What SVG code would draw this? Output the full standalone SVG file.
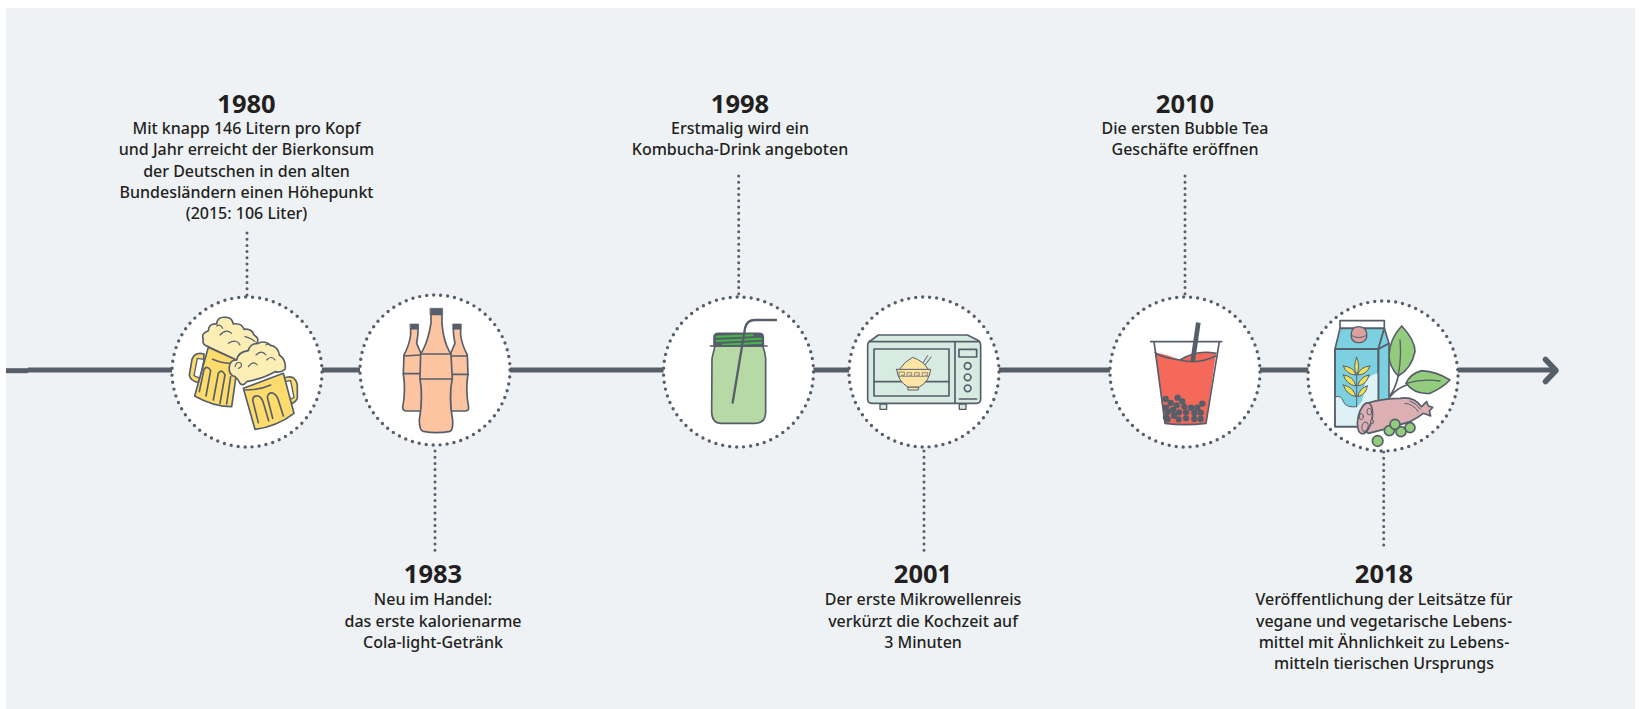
<svg xmlns="http://www.w3.org/2000/svg" width="1641" height="709" viewBox="0 0 1641 709">
<style>
.bg{fill:#eef2f5}
.main{fill:none;stroke:#565e6a;stroke-width:5}
.dot{fill:none;stroke:#565e6a;stroke-width:3;stroke-linecap:round;stroke-dasharray:0 6.2}
.ring{fill:#fff;stroke:#565e6a;stroke-width:3.4;stroke-linecap:round;stroke-dasharray:0 7.03}
.yr{font:700 25.5px "Noto Sans","Open Sans",sans-serif;fill:#231f20;text-anchor:middle}
.tx{font:500 16px "Noto Sans","Open Sans",sans-serif;fill:#231f20;text-anchor:middle}
.ic *{stroke:#565e6a;stroke-width:5;stroke-linejoin:round;stroke-linecap:round}
.ic .n{fill:none}
.ic .t{stroke-width:3}
.ic .ball{fill:#565e6a;stroke:none}
</style>
<rect class="bg" x="6" y="8" width="1629" height="701"/>
<g id="connectors">
<path class="main" d="M6 370.700H28"/>
<path class="main" d="M28 370H1556"/>
<path class="main" d="M1545.500 359.500L1556 370.500L1545.500 381.500" stroke-linecap="round" stroke-linejoin="round" style="stroke-width:5.500"/>
<path class="dot" d="M247 233V296"/>
<path class="dot" d="M435 451V556"/>
<path class="dot" d="M738.700 176V296"/>
<path class="dot" d="M924 451V556"/>
<path class="dot" d="M1185 176V296"/>
<path class="dot" d="M1383.700 452V549"/>
</g>
<g id="node-1980">
<circle class="ring" cx="247" cy="372" r="75"/>
<g class="ic" transform="translate(180 310) scale(.3333)">
<path fill="#fddc6d" d="M72 132Q45 125 36 148L28 195Q30 212 55 218L70 180Z"/>
<path fill="#fff" d="M52 145L72 148L60 205L42 197Z" style="stroke-width:4"/>
<path fill="#fddc6d" d="M85 112L170 150L168 200L155 290Q100 290 44 258Z"/>
<path class="n" d="M98 148Q125 160 150 160"/>
<path class="n" d="M58 245L72 178Q82 165 92 182L78 258M100 270L115 190Q125 175 135 195L120 280M140 282L152 200"/>
<path fill="#fdeeb5" d="M70 88Q62 70 85 62Q85 40 110 42Q112 20 135 22Q155 20 160 42Q185 38 192 58Q215 55 222 75Q240 85 230 100L170 150L85 110Q65 105 70 88Z"/>
<path class="n" d="M110 48Q120 40 128 55M120 75Q138 55 155 70M145 100Q170 85 180 105M195 80Q215 85 225 95" style="stroke-width:3.500"/>
<path fill="#fddc6d" d="M310 205Q345 190 352 225L352 265Q345 280 328 282L320 270Z"/>
<path fill="#fff" d="M312 215L332 212L342 262L328 270Z" style="stroke-width:4"/>
<path fill="#fddc6d" d="M190 235L310 190L342 310Q290 350 225 358Z"/>
<path class="n" d="M195 240Q240 240 272 225"/>
<path class="n" d="M235 338L218 270Q220 255 235 258Q245 262 250 278L266 332M278 325L262 262Q265 245 280 250Q290 255 295 270L310 318"/>
<path fill="#fdeeb5" d="M148 170Q150 150 170 150Q175 125 205 122Q210 100 235 100Q255 90 270 105Q295 110 298 135Q320 150 315 178Q300 190 285 185Q250 205 200 215Q190 230 180 220Q172 205 165 200Q145 195 148 170Z"/>
<path class="n" d="M165 170Q170 152 183 160Q188 172 175 175M205 170Q220 150 232 165M228 135Q245 118 258 135M260 150Q275 135 285 150M258 105Q270 98 272 108" style="stroke-width:3.500"/>
</g>
<text class="yr" x="246.500" y="112.700">1980</text>
<text class="tx" x="246.500" y="134">Mit knapp 146 Litern pro Kopf</text>
<text class="tx" x="246.500" y="155">und Jahr erreicht der Bierkonsum</text>
<text class="tx" x="246.500" y="176.500">der Deutschen in den alten</text>
<text class="tx" x="246.500" y="198">Bundesländern einen Höhepunkt</text>
<text class="tx" x="246.500" y="219">(2015: 106 Liter)</text>
</g>
<g id="node-1983">
<circle class="ring" cx="435" cy="370" r="75"/>
<g class="ic" transform="translate(150 280) scale(.3333)" fill="#fcc4a0">
<path d="M782 146L782 165Q778 195 762 225L760 282Q768 330 758 382Q758 393 770 393L815 393L815 225L800 190Q805 165 804 146Z"/>
<path d="M810 225L762 228M812 281L760 281" class="n"/>
<path d="M902 393L945 393Q957 393 956 382Q946 330 954 282L952 225Q936 195 932 165L932 146L910 146Q910 165 915 190L900 225Z"/>
<path d="M905 228L952 228M905 283L954 283" class="n"/>
<path fill="#565e6a" d="M781 132H806V146H781Z" style="stroke-width:2"/>
<path fill="#565e6a" d="M909 132H934V146H909Z" style="stroke-width:2"/>
<path d="M843 103L843 130Q835 180 818 212L812 222L810 296Q820 350 808 420Q808 452 820 454Q860 462 900 454Q910 450 908 420Q895 350 907 296L903 222L897 212Q880 180 876 130L876 103Z"/>
<path class="n" d="M812 222H903M810 297H907"/>
<path fill="#565e6a" d="M841 85H878V103H841Z" style="stroke-width:2"/>
</g>
<text class="yr" x="433" y="583.300">1983</text>
<text class="tx" x="433" y="605">Neu im Handel:</text>
<text class="tx" x="433" y="626.500">das erste kalorienarme</text>
<text class="tx" x="433" y="647.700">Cola-light-Getränk</text>
</g>
<g id="node-1998">
<circle class="ring" cx="738.500" cy="372" r="75"/>
<g class="ic" transform="translate(650 280) scale(.3333)">
<path fill="#b6d9a5" d="M186 235Q192 210 195 198L338 198Q345 215 347 235L347 395Q347 430 315 430L215 430Q185 430 185 395Z"/>
<path fill="#565e6a" d="M192 198V172Q192 160 205 160H328Q340 160 340 172V198Z"/>
<path d="M198 170L310 166M198 183L335 176M216 194L335 188" style="stroke:#45b649;stroke-width:6;stroke-linecap:butt" class="n"/>
<path class="n" d="M181 198H351"/>
<path class="n" d="M248 368L285 145Q290 120 315 120L378 120" style="stroke-width:7"/>
</g>
<text class="yr" x="740" y="112.700">1998</text>
<text class="tx" x="740" y="134">Erstmalig wird ein</text>
<text class="tx" x="740" y="155">Kombucha-Drink angeboten</text>
</g>
<g id="node-2001">
<circle class="ring" cx="924" cy="372" r="75"/>
<g class="ic" transform="translate(860 325) scale(.3333)">
<path fill="#d7ebe3" d="M60 237H80V253H60ZM298 237H318V253H298Z" style="stroke-width:4"/>
<path fill="#d7ebe3" d="M23 62Q23 50 35 45L55 30H322L352 45Q362 50 362 62V222Q362 235 350 235H35Q23 235 23 222Z"/>
<path class="n" d="M28 50H358M285 50V235M298 222H350"/>
<path fill="#d7ebe3" d="M42 72H267V213H42Z"/>
<path class="n" d="M42 170H267"/>
<path class="n" d="M297 73H350V96H297Z"/>
<circle class="n" cx="323" cy="123" r="10"/><circle class="n" cx="323" cy="157" r="10"/><circle class="n" cx="323" cy="190" r="10"/>
<path class="n t" d="M188 115L203 92M196 119L213 96"/>
<path fill="#fde5a6" class="t" d="M118 133Q135 108 158 97Q190 108 205 133Z"/>
<path fill="#fde5a6" class="t" d="M145 186H175V195H145Z"/>
<path fill="#fde5a6" class="t" d="M110 133H212Q208 170 178 186H144Q114 170 110 133Z"/>
<path class="n" d="M117 154V141H133V151H124M141 154V143H155V151H148M164 154V143H178V151H171M187 154V143H203V151H195M117 154H205" style="stroke-width:2"/>
</g>
<text class="yr" x="923" y="583.300">2001</text>
<text class="tx" x="923" y="605">Der erste Mikrowellenreis</text>
<text class="tx" x="923" y="626.500">verkürzt die Kochzeit auf</text>
<text class="tx" x="923" y="647.700">3 Minuten</text>
</g>
<g id="node-2010">
<circle class="ring" cx="1185" cy="372" r="75"/>
<g class="ic" transform="translate(1140 310) scale(.3333)">
<path fill="#fff" d="M42 95L75 340Q135 348 198 340L238 95Z" style="stroke:none"/>
<path fill="#f5695a" d="M46 128Q90 135 120 150Q170 120 228 130L198 340Q135 348 75 340Z" style="stroke:none"/>
<path class="n" d="M46 128Q60 142 120 150Q170 165 228 138M120 150Q170 118 228 130"/>
<path class="n" d="M42 95L75 340Q135 348 198 340L238 95M32 95H245"/>
<path class="n" d="M175 38L158 155" style="stroke-width:14;stroke-linecap:butt"/>
<g>
<circle class="ball" cx="77" cy="267" r="9.500"/><circle class="ball" cx="113" cy="263" r="9.500"/><circle class="ball" cx="127" cy="274" r="9.500"/><circle class="ball" cx="92" cy="279" r="9.500"/><circle class="ball" cx="110" cy="286" r="9.500"/><circle class="ball" cx="187" cy="281" r="9.500"/><circle class="ball" cx="78" cy="293" r="9.500"/><circle class="ball" cx="133" cy="290" r="9.500"/><circle class="ball" cx="153" cy="293" r="9.500"/><circle class="ball" cx="172" cy="293" r="9.500"/><circle class="ball" cx="99" cy="300" r="9.500"/><circle class="ball" cx="83" cy="306" r="9.500"/><circle class="ball" cx="117" cy="307" r="9.500"/><circle class="ball" cx="138" cy="307" r="9.500"/><circle class="ball" cx="163" cy="309" r="9.500"/><circle class="ball" cx="182" cy="308" r="9.500"/><circle class="ball" cx="102" cy="317" r="9.500"/><circle class="ball" cx="83" cy="328" r="9.500"/><circle class="ball" cx="116" cy="328" r="9.500"/><circle class="ball" cx="138" cy="325" r="9.500"/><circle class="ball" cx="163" cy="327" r="9.500"/><circle class="ball" cx="182" cy="327" r="9.500"/><circle class="ball" cx="78" cy="322" r="9.500"/>
</g>
</g>
<text class="yr" x="1185" y="112.700">2010</text>
<text class="tx" x="1185" y="134">Die ersten Bubble Tea</text>
<text class="tx" x="1185" y="155">Geschäfte eröffnen</text>
</g>
<g id="node-2018">
<circle class="ring" cx="1383" cy="376" r="75"/>
<g class="ic" transform="translate(1290 300) scale(.3333)">
<path class="n" d="M325 228Q315 270 297 290M350 255Q320 265 300 290"/>
<path fill="#93cc7d" d="M335 78Q375 120 375 155Q365 205 325 228Q297 200 297 165Q300 115 335 78Z"/>
<path class="n" d="M330 120Q335 170 325 225" style="stroke-width:4"/>
<path fill="#93cc7d" d="M480 240Q440 215 395 212Q360 222 348 250Q375 285 420 280Q455 265 480 240Z"/>
<path class="n" d="M348 250Q400 235 450 243" style="stroke-width:4"/>
<path fill="#fff" d="M150 62H283V85H150Z"/>
<path fill="#7dd0e0" d="M265 147L297 130V340H265Z"/>
<path fill="#7dd0e0" d="M150 85L135 147H265L283 85Z"/>
<path fill="#7dd0e0" d="M283 85L297 130L265 147Z"/>
<path fill="#7dd0e0" d="M135 147H265V380H135Z"/>
<path fill="#ddf1f6" d="M135 290Q155 285 160 305Q170 325 200 320Q220 310 222 270Q225 225 265 220V378H137Z" style="stroke:none"/>
<path class="n" d="M135 290Q155 285 160 305Q170 325 200 320" style="stroke-width:3"/>
<path class="n" d="M135 147H265V380H135Z"/>
<path fill="#dba0a0" class="t" d="M184 112V100Q186 80 205 80Q228 80 230 100V112Q225 128 207 128Q188 128 184 112Z" style="stroke-width:4"/>
<path class="n" d="M184 106Q205 120 230 106" style="stroke-width:3"/>
<g fill="#efe25a">
<path class="t" d="M200 172Q212 200 200 225Q188 200 200 172Z"/>
<path class="t" d="M160 198Q190 200 198 225Q170 225 160 198ZM240 198Q210 200 203 225Q230 225 240 198Z"/>
<path class="t" d="M160 225Q190 228 198 258Q170 255 160 225ZM237 225Q210 230 203 258Q230 255 237 225Z"/>
<path class="t" d="M160 255Q190 260 198 290Q170 285 160 255ZM232 258Q210 262 203 290Q228 285 232 258Z"/>
</g>
<path class="n t" d="M200 222V320"/>
<circle fill="#93cc7d" cx="263" cy="423" r="16"/>
<path fill="#dcb0b3" d="M230 310Q280 295 330 295Q370 288 395 320L410 305L415 318L428 322L418 333L422 348L400 340Q385 352 360 365Q300 385 235 400L205 370Z"/>
<ellipse fill="#dcb0b3" cx="225" cy="355" rx="21" ry="47" transform="rotate(12 225 355)"/>
<ellipse fill="#dcb0b3" class="t" cx="214" cy="350" rx="6" ry="9"/>
<ellipse fill="#dcb0b3" class="t" cx="238" cy="335" rx="7" ry="10"/>
<ellipse fill="#dcb0b3" class="t" cx="225" cy="380" rx="9" ry="14" transform="rotate(15 225 380)"/>
<ellipse fill="#dcb0b3" class="t" cx="246" cy="365" rx="4" ry="7"/>
<path class="n t" d="M345 310Q370 312 385 335M360 303Q380 310 392 328"/>
<circle fill="#93cc7d" cx="298" cy="392" r="15"/>
<circle fill="#93cc7d" cx="360" cy="383" r="15"/>
<circle fill="#93cc7d" cx="333" cy="395" r="15"/>
<circle fill="#93cc7d" cx="315" cy="373" r="15"/>
</g>
<text class="yr" x="1384" y="583.300">2018</text>
<text class="tx" x="1384" y="605">Veröffentlichung der Leitsätze für</text>
<text class="tx" x="1384" y="626.500">vegane und vegetarische Lebens-</text>
<text class="tx" x="1384" y="647.700">mittel mit Ähnlichkeit zu Lebens-</text>
<text class="tx" x="1384" y="669">mitteln tierischen Ursprungs</text>
</g>
</svg>
